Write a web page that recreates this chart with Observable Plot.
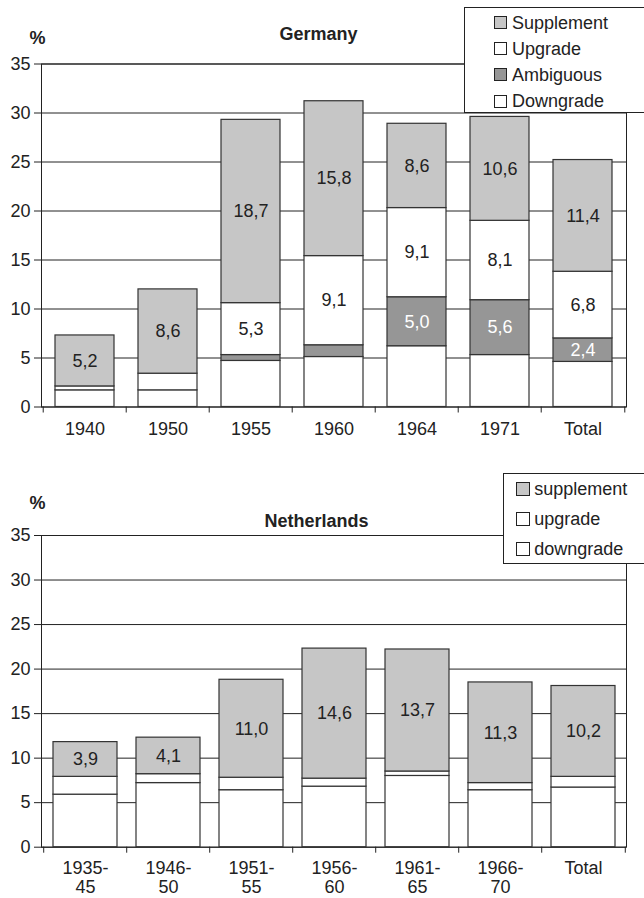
<!DOCTYPE html>
<html><head><meta charset="utf-8">
<script src="https://cdn.jsdelivr.net/npm/d3@7"></script>
<script src="https://cdn.jsdelivr.net/npm/@observablehq/plot@0.6"></script>
<style>
body{margin:0;background:#fff;font-family:"Liberation Sans",Arial,sans-serif;}
#wrap{position:relative;width:644px;height:898px;overflow:hidden;background:#fff;}
.chart{position:absolute;left:0;}
.legend{position:absolute;background:#fff;border:1px solid #222;box-sizing:border-box;font-size:18px;color:#222;}
.item{position:absolute;white-space:nowrap;line-height:18px;height:18px;}
.sw{position:absolute;box-sizing:border-box;border:1px solid #222;}
</style></head><body><div id="wrap"></div>
<script>
// ---------- Germany ----------
const deCategories = ["1940", "1950", "1955", "1960", "1964", "1971", "Total"];
const deSeries = ["Downgrade", "Ambiguous", "Upgrade", "Supplement"]; // stack order, bottom to top
const deDowngrade  = [1.7, 1.7, 4.7, 5.1, 6.2, 5.3, 4.6];
const deAmbiguous  = [0.0, 0.0, 0.6, 1.2, 5.0, 5.6, 2.4];
const deUpgrade    = [0.4, 1.7, 5.3, 9.1, 9.1, 8.1, 6.8];
const deSupplement = [5.2, 8.6, 18.7, 15.8, 8.6, 10.6, 11.4];
const deShowDowngrade  = [0, 0, 0, 0, 0, 0, 0];
const deShowAmbiguous  = [0, 0, 0, 0, 1, 1, 1];
const deShowUpgrade    = [0, 0, 1, 1, 1, 1, 1];
const deShowSupplement = [1, 1, 1, 1, 1, 1, 1];
const deLegend = ["Supplement", "Upgrade", "Ambiguous", "Downgrade"];

// ---------- Netherlands ----------
const nlCategories = ["1935-\n45", "1946-\n50", "1951-\n55", "1956-\n60", "1961-\n65", "1966-\n70", "Total"];
const nlSeries = ["downgrade", "upgrade", "supplement"];
const nlDowngrade  = [5.9, 7.2, 6.4, 6.8, 8.0, 6.4, 6.7];
const nlUpgrade    = [2.0, 1.0, 1.4, 0.9, 0.5, 0.8, 1.2];
const nlSupplement = [3.9, 4.1, 11.0, 14.6, 13.7, 11.3, 10.2];
const nlShowDowngrade  = [0, 0, 0, 0, 0, 0, 0];
const nlShowUpgrade    = [0, 0, 0, 0, 0, 0, 0];
const nlShowSupplement = [1, 1, 1, 1, 1, 1, 1];
const nlLegend = ["supplement", "upgrade", "downgrade"];

const yTicks = [0, 5, 10, 15, 20, 25, 30, 35];
const fillFor = {
  Supplement: "#c6c6c6", Upgrade: "#ffffff", Ambiguous: "#969696", Downgrade: "#ffffff",
  supplement: "#c6c6c6", upgrade: "#ffffff", downgrade: "#ffffff"
};
const fmt = v => d3.format(".1f")(v).replace(".", ",");
const FONT = '"Liberation Sans", Arial, sans-serif';

function buildRows(cats, series, values, shows) {
  const rows = [];
  cats.forEach((c, ci) => series.forEach((s, si) => {
    const v = values[si][ci];
    if (v > 0) rows.push({cat: c, series: s, value: v, show: !!shows[si][ci]});
  }));
  return rows;
}

function chart(cfg) {
  const width = 644, marginLeft = 41, marginRight = 18;
  const n = cfg.cats.length;
  const step = (width - marginLeft - marginRight) / n;
  const rows = buildRows(cfg.cats, cfg.series, cfg.values, cfg.shows);
  return Plot.plot({
    width, height: cfg.height,
    marginTop: cfg.marginTop, marginBottom: cfg.marginBottom,
    marginLeft, marginRight,
    style: {fontFamily: FONT, fontSize: "18px", color: "#222", background: "white"},
    x: {domain: cfg.cats, paddingInner: cfg.pad, paddingOuter: cfg.pad / 2, label: null},
    y: {domain: [0, 35], label: null},
    color: {domain: cfg.series, range: cfg.series.map(s => fillFor[s])},
    marks: [
      Plot.gridY(yTicks, {stroke: "#222", strokeOpacity: 1, strokeWidth: 1}),
      Plot.frame({stroke: "#222", strokeWidth: 1}),
      Plot.barY(rows, {x: "cat", y: "value", fill: "series", stroke: "#333", strokeWidth: 1.2}),
      Plot.text(rows, Plot.stackY({
        x: "cat", y: "value", z: "series",
        text: d => d.show ? fmt(d.value) : null,
        fill: d => d.series === "Ambiguous" ? "#ffffff" : "#222222",
        fontSize: 18
      })),
      Plot.axisY(yTicks, {tickSize: 7, tickPadding: 4, fontSize: 18, label: null, stroke: "#222"}),
      Plot.axisX({tickSize: 0, tickPadding: cfg.xPad, fontSize: 18, lineHeight: 1.02, label: null}),
      Plot.axisX({tickSize: 6, tickFormat: () => "", dx: -step / 2, label: null, stroke: "#222"}),
      Plot.axisX([cfg.cats[n - 1]], {tickSize: 6, tickFormat: () => "", dx: step / 2, label: null, stroke: "#222"}),
      Plot.text([cfg.title], {frameAnchor: "top-left", textAnchor: "middle", lineAnchor: "middle", dx: cfg.titleDx, dy: cfg.titleDy, fontWeight: "bold", fontSize: 18, fill: "#222"}),
      Plot.text(["%"], {frameAnchor: "top-left", textAnchor: "middle", lineAnchor: "middle", dx: -4, dy: cfg.pctDy, fontWeight: "bold", fontSize: 18, fill: "#222"})
    ]
  });
}

function legend(items, box) {
  const div = document.createElement("div");
  div.className = "legend";
  Object.assign(div.style, {left: box.left + "px", top: box.top + "px", width: box.width + "px", height: box.height + "px"});
  items.forEach((s, i) => {
    const cy = box.first + i * box.gap;
    const sw = document.createElement("div");
    sw.className = "sw";
    Object.assign(sw.style, {left: box.swLeft + "px", top: (cy - box.sw / 2) + "px", width: box.sw + "px", height: box.sw + "px", background: fillFor[s]});
    const t = document.createElement("div");
    t.className = "item";
    t.textContent = s;
    Object.assign(t.style, {left: box.textLeft + "px", top: (cy - 9) + "px"});
    div.appendChild(sw); div.appendChild(t);
  });
  return div;
}

const wrap = document.getElementById("wrap");

const de = chart({
  cats: deCategories, series: deSeries,
  values: [deDowngrade, deAmbiguous, deUpgrade, deSupplement],
  shows: [deShowDowngrade, deShowAmbiguous, deShowUpgrade, deShowSupplement],
  height: 450, marginTop: 63.5, marginBottom: 43.5, pad: 0.285, xPad: 15,
  title: "Germany", titleDx: 277, titleDy: -30, pctDy: -26
});
de.classList.add("chart"); de.style.top = "0px";
wrap.appendChild(de);

const nl = chart({
  cats: nlCategories, series: nlSeries,
  values: [nlDowngrade, nlUpgrade, nlSupplement],
  shows: [nlShowDowngrade, nlShowUpgrade, nlShowSupplement],
  height: 448, marginTop: 85, marginBottom: 51.3, pad: 0.23, xPad: 14,
  title: "Netherlands", titleDx: 275, titleDy: -14, pctDy: -32
});
nl.classList.add("chart"); nl.style.top = "450px";
wrap.appendChild(nl);

wrap.appendChild(legend(deLegend, {left: 463.5, top: 6.5, width: 200, height: 106.5, first: 15, gap: 26.2, swLeft: 29, sw: 13, textLeft: 47.5}));
wrap.appendChild(legend(nlLegend, {left: 502.7, top: 473.3, width: 160, height: 90.3, first: 15, gap: 30, swLeft: 12.3, sw: 14, textLeft: 30.6}));
</script></body></html>
